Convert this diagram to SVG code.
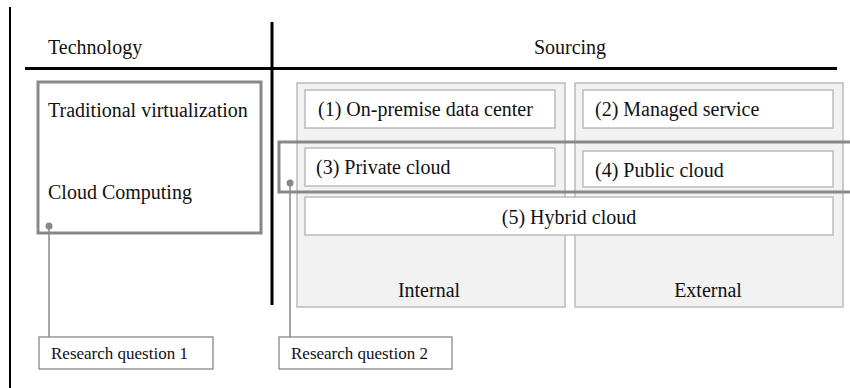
<svg xmlns="http://www.w3.org/2000/svg" width="850" height="388" viewBox="0 0 850 388">
<style>
text{font-family:"Liberation Serif","Times New Roman",serif;fill:#111;font-size:20px}
.rq{font-size:17px}
.pane{fill:#f2f2f2;stroke:#bbb;stroke-width:1.5}
.item{fill:#fff;stroke:#bbb;stroke-width:1.5}
.frame{fill:none;stroke:#888;stroke-width:3}
.rqbox{fill:#fff;stroke:#888;stroke-width:1.3}
.lead{stroke:#888;stroke-width:1.5;fill:none}
.dot{fill:#888}
.axis{stroke:#000;stroke-width:3}
</style>
<rect width="850" height="388" fill="#fff"/>
<g id="axes">
<line x1="10" y1="7" x2="10" y2="388" stroke="#000" stroke-width="2"/>
<line class="axis" x1="272" y1="22" x2="272" y2="305"/>
<line class="axis" x1="25" y1="68.5" x2="837" y2="68.5"/>
<text x="48" y="54">Technology</text>
<text x="570" y="54" text-anchor="middle">Sourcing</text>
</g>
<g id="internal">
<rect class="pane" x="297" y="83" width="268" height="224"/>
<text x="429" y="297" text-anchor="middle">Internal</text>
</g>
<g id="external">
<rect class="pane" x="575" y="83" width="268" height="224"/>
<text x="708" y="297" text-anchor="middle">External</text>
</g>
<g id="n1">
<rect class="item" x="305" y="90" width="250" height="38"/>
<text x="318" y="116">(1) On-premise data center</text>
</g>
<g id="n2">
<rect class="item" x="583" y="90" width="250" height="38"/>
<text x="595" y="116">(2) Managed service</text>
</g>
<g id="n3">
<rect class="item" x="305" y="148" width="250" height="38"/>
<text x="316" y="174">(3) Private cloud</text>
</g>
<g id="n4">
<rect class="item" x="583" y="151" width="250" height="36"/>
<text x="595" y="177">(4) Public cloud</text>
</g>
<g id="n5">
<rect class="item" x="305" y="197" width="528" height="38"/>
<text x="569" y="224" text-anchor="middle">(5) Hybrid cloud</text>
</g>
<g id="technology">
<rect class="frame" x="38" y="82" width="223" height="151"/>
<text x="48" y="117">Traditional virtualization</text>
<text x="48" y="199">Cloud Computing</text>
</g>
<g id="rq2frame">
<path class="frame" d="M852 142 H279 V192 H852"/>
</g>
<g id="connectors">
<line class="lead" x1="49" y1="226" x2="49" y2="337"/>
<circle class="dot" cx="49" cy="226" r="3.5"/>
<line class="lead" x1="290" y1="183" x2="290" y2="337"/>
<circle class="dot" cx="290" cy="183" r="3.5"/>
</g>
<g id="rq1">
<rect class="rqbox" x="39" y="337" width="174" height="32"/>
<text class="rq" x="51" y="359">Research question 1</text>
</g>
<g id="rq2">
<rect class="rqbox" x="279" y="337" width="173" height="32"/>
<text class="rq" x="291" y="359">Research question 2</text>
</g>
</svg>
